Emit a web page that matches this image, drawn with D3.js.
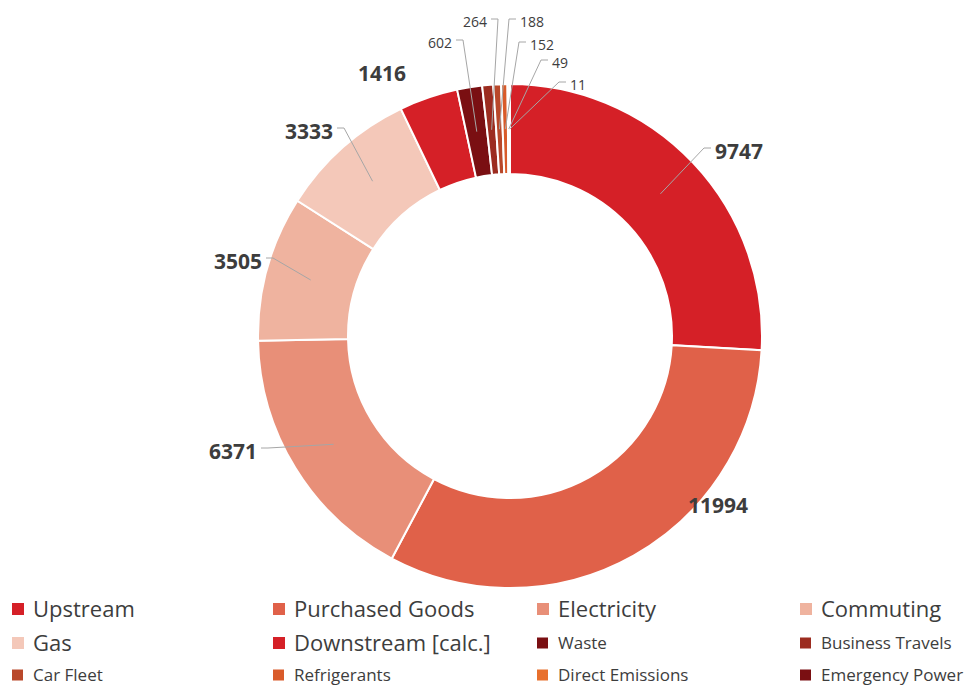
<html>
<head>
  <style>
    body { margin: 0; background: #fff; }
    svg text { font-family: "Open Sans", sans-serif; fill: #3d3d3d; }
    svg .slice { stroke: #fff; stroke-width: 2px; }
    svg .leader { stroke: #a6a6a6; stroke-width: 1px; fill: none; }
    svg .big { font-weight: bold; font-size: 21px; }
    svg .small { font-size: 14px; }
  </style>
</head>
<body>
  <div id="chart"></div>
  <script src="https://cdn.jsdelivr.net/npm/d3@7"></script>
  <script>
    // data
    var categories = ["Upstream", "Purchased Goods", "Electricity", "Commuting", "Gas",
      "Downstream [calc.]", "Waste", "Business Travels", "Car Fleet", "Refrigerants",
      "Direct Emissions", "Emergency Power"];
    var values = [9747, 11994, 6371, 3505, 3333, 1416, 602, 264, 188, 152, 49, 11];
    var colors = ["#d52027", "#e06149", "#e88f78", "#efb39f", "#f4c8b9", "#d52027",
      "#7a0f12", "#9c2c20", "#b9482a", "#d95b2a", "#e8702d", "#7a0f12"];

    // label layout: offset of text from centre, anchor, bold, leader line
    var labelLayout = [
      { dx: 205, dy: -184, anchor: "start", big: true, line: true },
      { dx: 208, dy: 170, anchor: "middle", big: true, line: false },
      { dx: -253, dy: 116, anchor: "end", big: true, line: true },
      { dx: -248, dy: -74, anchor: "end", big: true, line: true },
      { dx: -177, dy: -204, anchor: "end", big: true, line: true },
      { dx: -128, dy: -262, anchor: "middle", big: true, line: false },
      { dx: -58, dy: -293, anchor: "end", big: false, line: true },
      { dx: -23, dy: -314, anchor: "end", big: false, line: true },
      { dx: 10, dy: -314, anchor: "start", big: false, line: true },
      { dx: 20, dy: -291, anchor: "start", big: false, line: true },
      { dx: 42, dy: -273, anchor: "start", big: false, line: true },
      { dx: 60, dy: -251, anchor: "start", big: false, line: true }
    ];

    var width = 979, height = 687;
    var cx = 510, cy = 336;
    var outerR = 252, innerR = 162;

    var svg = d3.select("#chart")
      .append("svg")
        .attr("width", width)
        .attr("height", height);

    var g = svg.append("g")
        .attr("transform", "translate(" + cx + "," + cy + ")");

    var pie = d3.pie().sort(null).value(function (d) { return d; });
    var arc = d3.arc().innerRadius(innerR).outerRadius(outerR);
    var arcs = pie(values);

    g.selectAll("path.slice")
      .data(arcs)
      .enter().append("path")
        .classed("slice", true)
        .attr("d", arc)
        .style("fill", function (d, i) { return colors[i]; });

    // leader lines
    arcs.forEach(function (d, i) {
      var L = labelLayout[i];
      if (!L.line) return;
      var c = arc.centroid(d);
      var side = L.anchor === "end" ? 1 : -1;
      var ly = L.dy - (L.big ? 4 : 3);
      var pts = [c, [L.dx + side * 11, ly], [L.dx + side * 4, ly]];
      g.append("path")
        .classed("leader", true)
        .attr("d", d3.line()(pts));
    });

    // value labels
    g.selectAll("text.value")
      .data(arcs)
      .enter().append("text")
        .attr("class", function (d, i) { return "value " + (labelLayout[i].big ? "big" : "small"); })
        .attr("x", function (d, i) { return labelLayout[i].dx; })
        .attr("y", function (d, i) { return labelLayout[i].dy; })
        .attr("dy", "0.35em")
        .style("text-anchor", function (d, i) { return labelLayout[i].anchor; })
        .text(function (d) { return d.data; });

    // legend
    var colX = [12, 273, 537, 800];
    var rowY = [609, 643, 675];

    var legend = svg.selectAll("g.legend")
      .data(categories)
      .enter().append("g")
        .classed("legend", true)
        .attr("transform", function (d, i) {
          return "translate(" + colX[i % 4] + "," + rowY[Math.floor(i / 4)] + ")";
        });

    legend.append("rect")
      .attr("x", 0)
      .attr("y", function (d, i) { return i < 6 ? -6 : -5.5; })
      .attr("width", function (d, i) { return i < 6 ? 12 : 11; })
      .attr("height", function (d, i) { return i < 6 ? 12 : 11; })
      .style("fill", function (d, i) { return colors[i]; });

    legend.append("text")
      .attr("x", 21)
      .attr("dy", "0.36em")
      .style("font-size", function (d, i) { return i < 6 ? "22px" : "17px"; })
      .text(function (d) { return d; });
  </script>
</body>
</html>
